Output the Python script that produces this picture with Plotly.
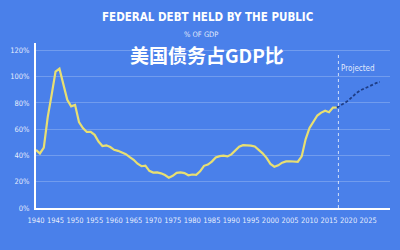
import plotly.graph_objects as go

hist_years = list(range(1940, 2018))
hist_values = [44.2, 41.5, 45.9, 69.2, 86.1, 103.9, 106.1, 93.9, 82.4, 77.4,
               78.5, 65.4, 60.9, 57.9, 57.9, 55.7, 50.6, 47.2, 47.7, 46.4,
               44.3, 43.5, 42.3, 41.0, 38.7, 36.7, 33.7, 31.8, 32.2, 28.3,
               27.0, 27.1, 26.4, 25.1, 23.1, 24.5, 26.7, 27.1, 26.6, 24.9,
               25.5, 25.2, 27.9, 32.1, 33.1, 35.3, 38.4, 39.5, 39.8, 39.3,
               40.8, 44.0, 46.6, 47.8, 47.7, 47.5, 46.8, 44.5, 41.6, 38.2,
               33.6, 31.4, 32.5, 34.5, 35.5, 35.6, 35.3, 35.2, 39.3, 52.3,
               60.9, 65.9, 70.4, 72.6, 74.1, 72.9, 76.4, 76.5]
proj_years = [2017, 2018, 2019, 2020, 2021, 2022, 2023, 2024, 2025, 2026, 2027, 2028]
proj_values = [76.5, 78.0, 80.0, 82.0, 85.0, 87.5, 89.5, 91.0, 92.5, 94.0, 95.0, 96.0]
x_ticks = list(range(1940, 2030, 5))
y_ticks = [0, 20, 40, 60, 80, 100, 120]
y_tick_labels = ["0%", "20%", "40%", "60%", "80%", "100%", "120%"]

BG = "#4a80ea"
COND = "DejaVu Sans Condensed, Liberation Sans Narrow, sans-serif"
PW = 362.5
PH = 165.5

fig = go.Figure()
fig.add_trace(go.Scatter(x=hist_years, y=hist_values, mode="lines",
                         line=dict(color="#e8df72", width=2.2), hoverinfo="skip"))
fig.add_trace(go.Scatter(x=proj_years, y=proj_values, mode="lines",
                         line=dict(color="#1e3d86", width=1.8, dash="3px,2px"), hoverinfo="skip"))

fig.add_shape(type="line", xref="x", yref="paper", x0=2017.4, x1=2017.4, y0=0, y1=(208.5-52)/PH,
              line=dict(color="rgba(255,255,255,0.75)", width=1, dash="dot"))

fig.update_layout(
    width=400, height=250,
    margin=dict(l=27.5, r=10, t=43, b=41.5),
    paper_bgcolor=BG, plot_bgcolor=BG,
    showlegend=False,
    xaxis=dict(range=[1940, 2030.6], tickvals=x_ticks, showgrid=False, zeroline=False,
               showline=True, linecolor="white", linewidth=2, ticks="", tickangle=0,
               ticklabelstandoff=4,
               tickfont=dict(family=COND, size=7.5, color="rgba(255,255,255,0.88)")),
    yaxis=dict(range=[0, 125.6], tickvals=y_ticks, ticktext=y_tick_labels,
               showgrid=True, gridcolor="rgba(255,255,255,0.22)", gridwidth=1,
               zeroline=False, showline=True, linecolor="white", linewidth=2, ticks="",
               ticklabelstandoff=3,
               tickfont=dict(family=COND, size=7.5, color="rgba(255,255,255,0.88)")),
    annotations=[
        dict(text="<b>FEDERAL DEBT HELD BY THE PUBLIC</b>", xref="paper", yref="paper",
             x=(203-27.5)/PW, y=(208.5-16.5)/PH, xanchor="center", yanchor="middle",
             showarrow=False, font=dict(family=COND, size=11.5, color="white")),
        dict(text="% OF GDP", xref="paper", yref="paper",
             x=(196-27.5)/PW, y=(208.5-34.5)/PH, xanchor="center", yanchor="middle",
             showarrow=False, font=dict(family=COND, size=7.5, color="rgba(255,255,255,0.85)")),
        dict(text="<b>美国债务占GDP比</b>", xref="paper", yref="paper",
             x=(203-27.5)/PW, y=(208.5-55)/PH, xanchor="center", yanchor="middle",
             showarrow=False, font=dict(family="Noto Sans CJK SC", size=19, color="white")),
        dict(text="Projected", xref="x", yref="paper",
             x=2022.5, y=(208.5-68.5)/PH, xanchor="center", yanchor="middle",
             showarrow=False, font=dict(family=COND, size=8, color="rgba(255,255,255,0.85)")),
    ],
)

fig.write_html("out.html")
